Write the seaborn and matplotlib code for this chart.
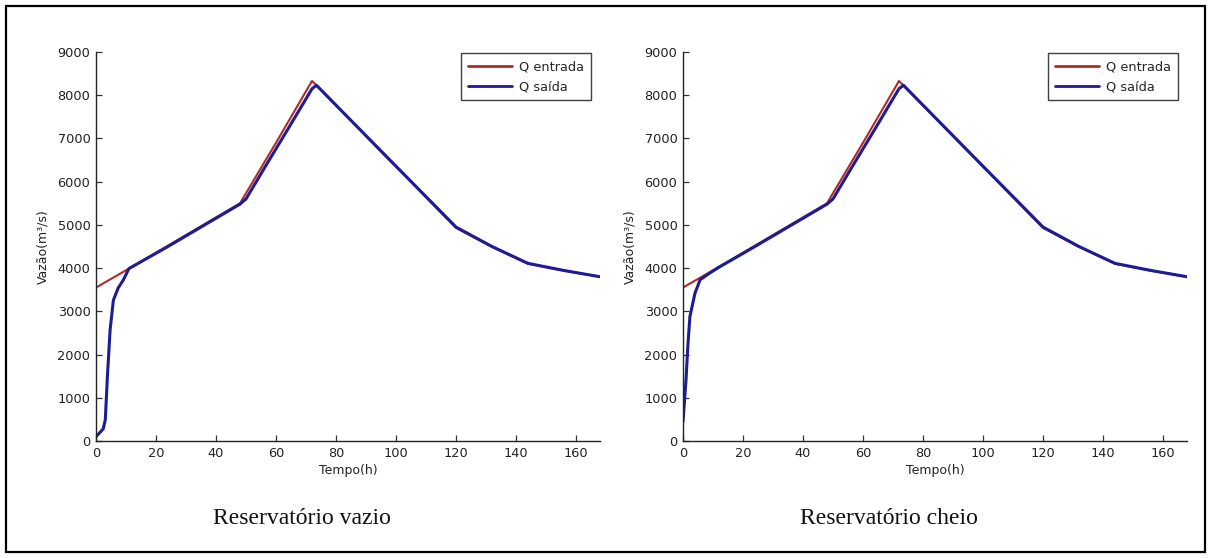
import matplotlib
matplotlib.use("Agg")
import matplotlib.pyplot as plt
from matplotlib.patches import Rectangle
import pandas as pd
import seaborn as sns

# Inflow hydrograph (same for both reservoir states)
t_entrada = [0, 10, 24, 48, 60, 72, 96, 120, 132, 144, 156, 168]
q_entrada = [3550, 3950, 4520, 5500, 6900, 8330, 6630, 4930, 4490, 4100, 3940, 3800]

# Outflow, empty reservoir
t_saida_vazio = [0, 2.4, 3.1, 3.8, 4.7, 5.8, 7.4, 9.1, 11, 24, 48, 50, 56, 64, 72, 73.5,
                 96, 120, 132, 144, 156, 168]
q_saida_vazio = [100, 280, 490, 1490, 2570, 3260, 3540, 3725, 3990, 4500, 5480, 5600,
                 6300, 7220, 8150, 8230, 6640, 4950, 4500, 4110, 3945, 3800]

# Outflow, full reservoir
t_saida_cheio = [0, 1, 1.6, 2.3, 4, 5.7, 9, 12, 24, 48, 50, 56, 64, 72, 73.5,
                 96, 120, 132, 144, 156, 168]
q_saida_cheio = [450, 1410, 2180, 2880, 3420, 3730, 3890, 4020, 4500, 5480, 5600,
                 6300, 7220, 8150, 8230, 6640, 4950, 4500, 4110, 3945, 3800]

x_ticks = [0, 20, 40, 60, 80, 100, 120, 140, 160]
y_ticks = [0, 1000, 2000, 3000, 4000, 5000, 6000, 7000, 8000, 9000]
legend_labels = ["Q entrada", "Q saída"]
captions = ["Reservatório vazio", "Reservatório cheio"]

sns.set_style("ticks")
plt.rcParams["font.family"] = ["DejaVu Sans"]
plt.rcParams["xtick.direction"] = "in"
plt.rcParams["ytick.direction"] = "in"

colors = {"Q entrada": "#b02a2a", "Q saída": "#1c1c96"}
widths = {"Q entrada": 1.5, "Q saída": 2.2}

fig = plt.figure(figsize=(12.12, 5.58), dpi=100)
fig.patch.set_facecolor("white")

panels = [
    (t_saida_vazio, q_saida_vazio, [96 / 1212, 1 - 441 / 558, 504 / 1212, 389 / 558]),
    (t_saida_cheio, q_saida_cheio, [683 / 1212, 1 - 441 / 558, 504 / 1212, 389 / 558]),
]

for i, (ts, qs, rect) in enumerate(panels):
    ax = fig.add_axes(rect)
    df = pd.concat([
        pd.DataFrame({"t": t_entrada, "Q": q_entrada, "serie": legend_labels[0]}),
        pd.DataFrame({"t": ts, "Q": qs, "serie": legend_labels[1]}),
    ], ignore_index=True)
    for name in legend_labels:
        sns.lineplot(data=df[df["serie"] == name], x="t", y="Q", color=colors[name],
                     linewidth=widths[name], estimator=None, sort=False, ax=ax,
                     label=name)
    ax.set_xlim(0, 168)
    ax.set_ylim(0, 9000)
    ax.set_xticks(x_ticks)
    ax.set_yticks(y_ticks)
    ax.set_xticklabels([str(v) for v in x_ticks], fontsize=9.3, color="#222222")
    ax.set_yticklabels([str(v) for v in y_ticks], fontsize=9.3, color="#222222")
    ax.tick_params(length=4.5, width=0.9, color="#333333", pad=4)
    for side in ("top", "right"):
        ax.spines[side].set_visible(False)
    for side in ("left", "bottom"):
        ax.spines[side].set_color("#222222")
        ax.spines[side].set_linewidth(1.0)
    ax.set_xlabel("Tempo(h)", fontsize=9.0, color="#222222", labelpad=3)
    ax.set_ylabel("Vazão(m³/s)", fontsize=9.0, color="#222222", labelpad=6)
    ax.set_facecolor("white")
    leg = ax.legend(loc="upper right", bbox_to_anchor=(0.982, 0.997), borderaxespad=0,
                    fancybox=False, frameon=True, fontsize=9.3, handlelength=3.4,
                    handletextpad=0.55, borderpad=0.55, labelspacing=0.55)
    leg.get_frame().set_edgecolor("#111111")
    leg.get_frame().set_linewidth(1.0)
    for line in leg.get_lines():
        line.set_linewidth(2.0)

    cx = (rect[0] + rect[2] / 2) - 0.038
    fig.text(cx, 1 - 518 / 558, captions[i], ha="center", va="center",
             fontsize=17, family=["Liberation Serif", "DejaVu Serif"], color="#111111")

# Frame around the whole figure
fig.patches.append(Rectangle((6 / 1212, 6 / 558), 1199 / 1212, 546 / 558,
                             transform=fig.transFigure, fill=False,
                             edgecolor="black", linewidth=1.6))

fig.savefig("out.png", dpi=100, facecolor="white")
